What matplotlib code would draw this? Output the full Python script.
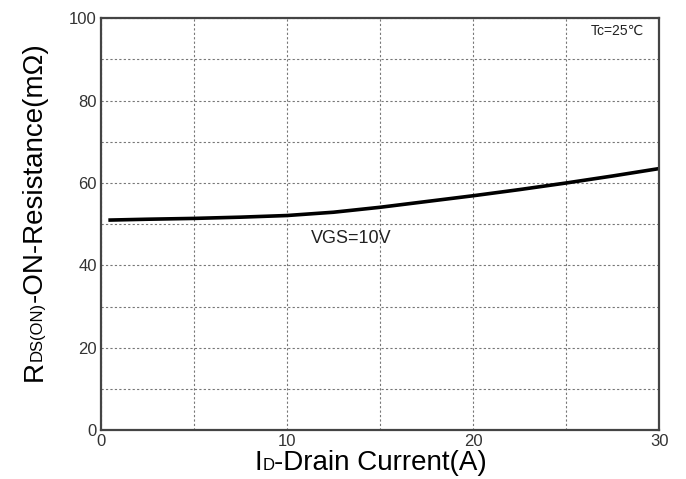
import matplotlib
matplotlib.use('Agg')
import matplotlib.pyplot as plt
import numpy as np

# curve
current = [0.5, 2.5, 5, 7.5, 10, 12.5, 15, 17.5, 20, 22.5, 25, 27.5, 30]
rdson = [51.0, 51.2, 51.4, 51.7, 52.1, 52.9, 54.1, 55.5, 56.9, 58.4, 60.0, 61.7, 63.5]

xticks = [0, 10, 20, 30]
yticks = [0, 20, 40, 60, 80, 100]

plt.rcParams['font.family'] = ['Liberation Sans', 'DejaVu Sans']

fig = plt.figure(figsize=(6.86, 4.79), dpi=100)
ax = fig.add_axes([0.147, 0.102, 0.814, 0.860])

ax.plot(current, rdson, color='black', lw=2.6)

ax.set_xlim(0, 30)
ax.set_ylim(0, 100)
ax.set_xticks(xticks)
ax.set_yticks(yticks)
ax.set_xticks(np.arange(5, 30, 5), minor=True)
ax.set_yticks(np.arange(10, 100, 10), minor=True)
ax.grid(True, which='both', color='#777777', ls=(0, (2, 2)), lw=0.8)
ax.tick_params(which='both', length=0, labelsize=12, colors='#333333', pad=3)

for s in ax.spines.values():
    s.set_color('#444444')
    s.set_linewidth(1.6)

fig.canvas.draw()
r = fig.canvas.get_renderer()


def pieces(x, y, parts, rotation=0):
    # draw text pieces one after another on a common baseline (pixel coords)
    objs = []
    total = 0
    for s, size in parts:
        t = fig.text(0, 0, s, fontsize=size, rotation=rotation,
                     rotation_mode='anchor', ha='left', va='baseline')
        bb = t.get_window_extent(r)
        w = bb.width if rotation == 0 else bb.height
        objs.append((t, w))
        total += w
    pos = -total / 2
    for t, w in objs:
        if rotation == 0:
            t.set_position(((x + pos) / 686, y / 479))
        else:
            t.set_position((x / 686, (y + pos) / 479))
        pos += w


# x label: baseline at ~y=474 px from top
pieces(371, 479 - 470, [('I', 20), ('D', 12), ('-Drain Current(A)', 20)])
# y label: baseline at x~42 px
pieces(42, 479 - 212, [('R', 20), ('DS(ON)', 12), ('-ON-Resistance(mΩ)', 20)], rotation=90)

ax.text(11.3, 45.5, 'VGS=10V', fontsize=13, color='#222222')
ax.text(29.2, 96, 'Tc=25℃', fontsize=10, ha='right', color='#222222',
        family=['Liberation Sans', 'DejaVu Sans'])

fig.savefig('out.png', dpi=100)
